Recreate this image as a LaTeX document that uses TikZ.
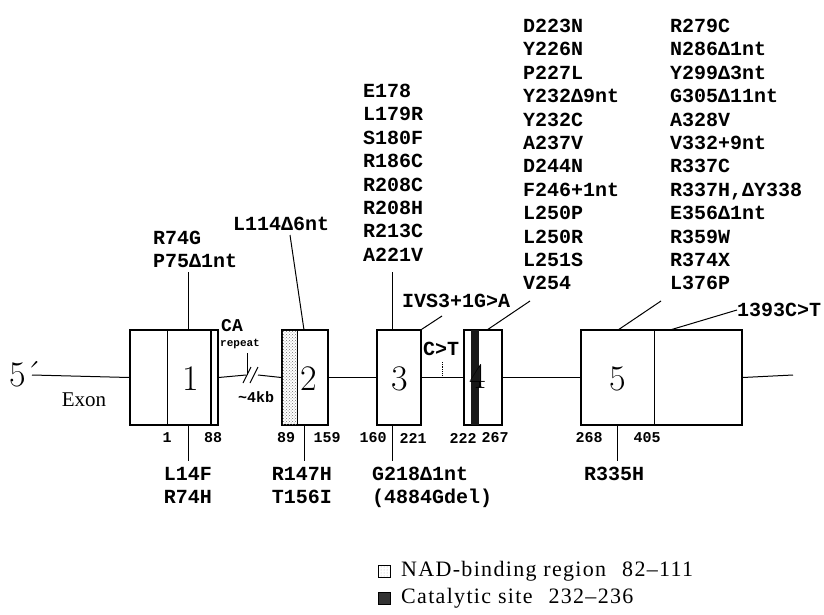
\documentclass[tikz,border=0pt]{standalone}
\usepackage{fontspec}
\setmonofont{Liberation Mono}
\newfontfamily\legendfont{Liberation Serif}[LetterSpace=6]
\newfontfamily\exonfont{Liberation Serif}
\usetikzlibrary{patterns}
\newcommand{\mutfont}{\ttfamily\bfseries\fontsize{20}{23.4}\selectfont}
\newcommand{\posfont}{\ttfamily\bfseries\fontsize{15}{15}\selectfont}
\newcommand{\digitfont}{\rmfamily\fontsize{36}{36}\selectfont}
\tikzset{
	exon/.style={draw, line width=1.3pt, fill=white, inner sep=0pt, minimum height=95pt},
	mut/.style={font=\mutfont, align=left, inner sep=0pt, anchor=north west},
	posnum/.style={font=\posfont, inner sep=0pt},
	digit/.style={font=\digitfont, inner sep=0pt},
	lead/.style={line width=1pt},
	legbox/.style={draw, line width=1pt, minimum size=12pt, inner sep=0pt},
	legtext/.style={font=\legendfont\fontsize{22}{22}\selectfont, anchor=west, inner sep=0pt},
}
\begin{document}
\begin{tikzpicture}[x=1pt,y=-1pt]
\useasboundingbox (0,0) rectangle (824,615);
% exons
\node[exon, minimum width=88pt] (e1) at (174,377.5) {};
\node[exon, minimum width=46pt] (e2) at (305,377.5) {};
\node[exon, minimum width=44pt] (e3) at (399,377.5) {};
\node[exon, minimum width=38pt] (e4) at (483,377.5) {};
\node[exon, minimum width=161pt] (e5) at (661.5,377.5) {};
% inner parts of the exons
\draw[line width=0.9pt] (167,330) -- (167,425);
\draw[line width=2.4pt] (211,330) -- (211,425);
\fill[pattern=crosshatch dots, pattern color=black!55] (282,330) rectangle (297,425);
\draw[line width=1pt] (297,330) -- (297,425);
\fill[black!90] (471,330) rectangle (479,425);
\draw[line width=1pt] (654,330) -- (654,425);
\draw[line width=1.3pt] (e2.north west) rectangle (e2.south east);
\draw[line width=1.3pt] (e4.north west) rectangle (e4.south east);
% backbone
\node[font=\rmfamily\fontsize{36}{36}\selectfont, anchor=west, inner sep=0pt] (five) at (9,374) {5´};
\coordinate (start) at (32,375);
\coordinate (brkA) at (246,375);
\coordinate (brkB) at (258,375);
\coordinate (tail) at (793,375);
\draw[lead] (start) -- (e1.west);
\draw[lead] (e1.east) -- (brkA);
\draw[lead] (brkB) -- (e2.west);
\draw[lead] (e2.east) -- (e3.west);
\draw[lead] (e3.east) -- (e4.west);
\draw[lead] (e4.east) -- (e5.west);
\draw[lead] (e5.east) -- (tail);
\draw[lead] (243,383) -- (251,367);
\draw[lead] (250,383) -- (258,367);
\node[font=\exonfont\fontsize{21}{21}\selectfont, inner sep=0pt] (exonlbl) at (84,400) {Exon};
% exon numbers
\node[digit] (n1) at (191,379) {1};
\node[digit] (n2) at (309,379) {2};
\node[digit] (n3) at (400,379) {3};
\node[digit] (n4) at (478,376) {4};
\node[digit] (n5) at (618,379) {5};
% CA repeat
\node[font=\ttfamily\bfseries\fontsize{18}{18}\selectfont, anchor=west, inner sep=0pt] (ca) at (221,326) {CA};
\node[font=\ttfamily\bfseries\fontsize{11}{11}\selectfont, anchor=west, inner sep=0pt] (rep) at (220,344) {repeat};
\coordinate (rept) at (247,353);
\draw[line width=0.8pt] (rept) -- (rept |- start);
\node[font=\posfont, anchor=west, inner sep=0pt] (kb) at (238,397) {\textasciitilde 4kb};
% positions
\node[posnum] (p1) at (167,438) {1};
\node[posnum] (p88) at (213,438) {88};
\node[posnum] (p89) at (286,438) {89};
\node[posnum] (p159) at (327,438) {159};
\node[posnum] (p160) at (373,438) {160};
\node[posnum] (p221) at (413,438) {221};
\node[posnum] (p222) at (463,438) {222};
\node[posnum] (p267) at (495,438) {267};
\node[posnum] (p268) at (589,438) {268};
\node[posnum] (p405) at (647,438) {405};
% mutations above
\node[mut] (m1) at (153,231) {R74G\\P75Δ1nt};
\coordinate (m1t) at (188,272);
\draw[lead] (m1t) -- (m1t |- e1.north);
\node[mut] (m2) at (233,217) {L114Δ6nt};
\coordinate (m2t) at (290,235);
\coordinate (m2b) at (304,330);
\draw[lead] (m2t) -- (m2b);
\node[mut] (m3) at (363,84) {E178\\L179R\\S180F\\R186C\\R208C\\R208H\\R213C\\A221V};
\coordinate (m3t) at (392,272);
\draw[lead] (m3t) -- (m3t |- e3.north);
\node[mut] (ivs) at (402,294) {IVS3+1G>A};
\coordinate (ivst) at (442,316);
\draw[lead] (ivst) -- (e3.north east);
\node[mut, anchor=west] (ct) at (423,349) {C>T};
\coordinate (ctt) at (442,362);
\draw[line width=0.8pt, densely dotted] (ctt) -- (ctt |- start);
\node[mut] (m4) at (523,19) {D223N\\Y226N\\P227L\\Y232Δ9nt\\Y232C\\A237V\\D244N\\F246+1nt\\L250P\\L250R\\L251S\\V254};
\coordinate (m4t) at (530,301);
\coordinate (m4b) at (487,330);
\draw[lead] (m4t) -- (m4b);
\node[mut] (m5) at (670,19) {R279C\\N286Δ1nt\\Y299Δ3nt\\G305Δ11nt\\A328V\\V332+9nt\\R337C\\R337H,ΔY338\\E356Δ1nt\\R359W\\R374X\\L376P};
\coordinate (m5t) at (661,301);
\coordinate (m5b) at (618,330);
\draw[lead] (m5t) -- (m5b);
\node[mut, anchor=west] (utr) at (737,310) {1393C>T};
\coordinate (utrb) at (670,330);
\draw[lead] (utr.west) -- (utrb);
% mutations below
\coordinate (d1) at (188,461);
\draw[lead] (e1.south -| d1) -- (d1);
\node[mut, anchor=north, align=center] (b1) at (188,467) {L14F\\R74H};
\coordinate (d2) at (304,461);
\draw[lead] (e2.south -| d2) -- (d2);
\node[mut, anchor=north, align=center] (b2) at (302,467) {R147H\\T156I};
\coordinate (d3) at (392,461);
\draw[lead] (e3.south -| d3) -- (d3);
\node[mut, anchor=north west] (b3) at (372,467) {G218Δ1nt\\(4884Gdel)};
\coordinate (d5) at (617,461);
\draw[lead] (e5.south -| d5) -- (d5);
\node[mut, anchor=north] (b5) at (614,467) {R335H};
% legend
\node[legbox, pattern=dots, pattern color=black!30] (lnad) at (384.5,571) {};
\node[legtext] (tnad) at (401,571) {NAD-binding region\hspace{16pt}82–111};
\node[legbox, fill=black!80] (lcat) at (384.5,598) {};
\node[legtext] (tcat) at (401,598) {Catalytic site\hspace{16pt}232–236};
\end{tikzpicture}
\end{document}
